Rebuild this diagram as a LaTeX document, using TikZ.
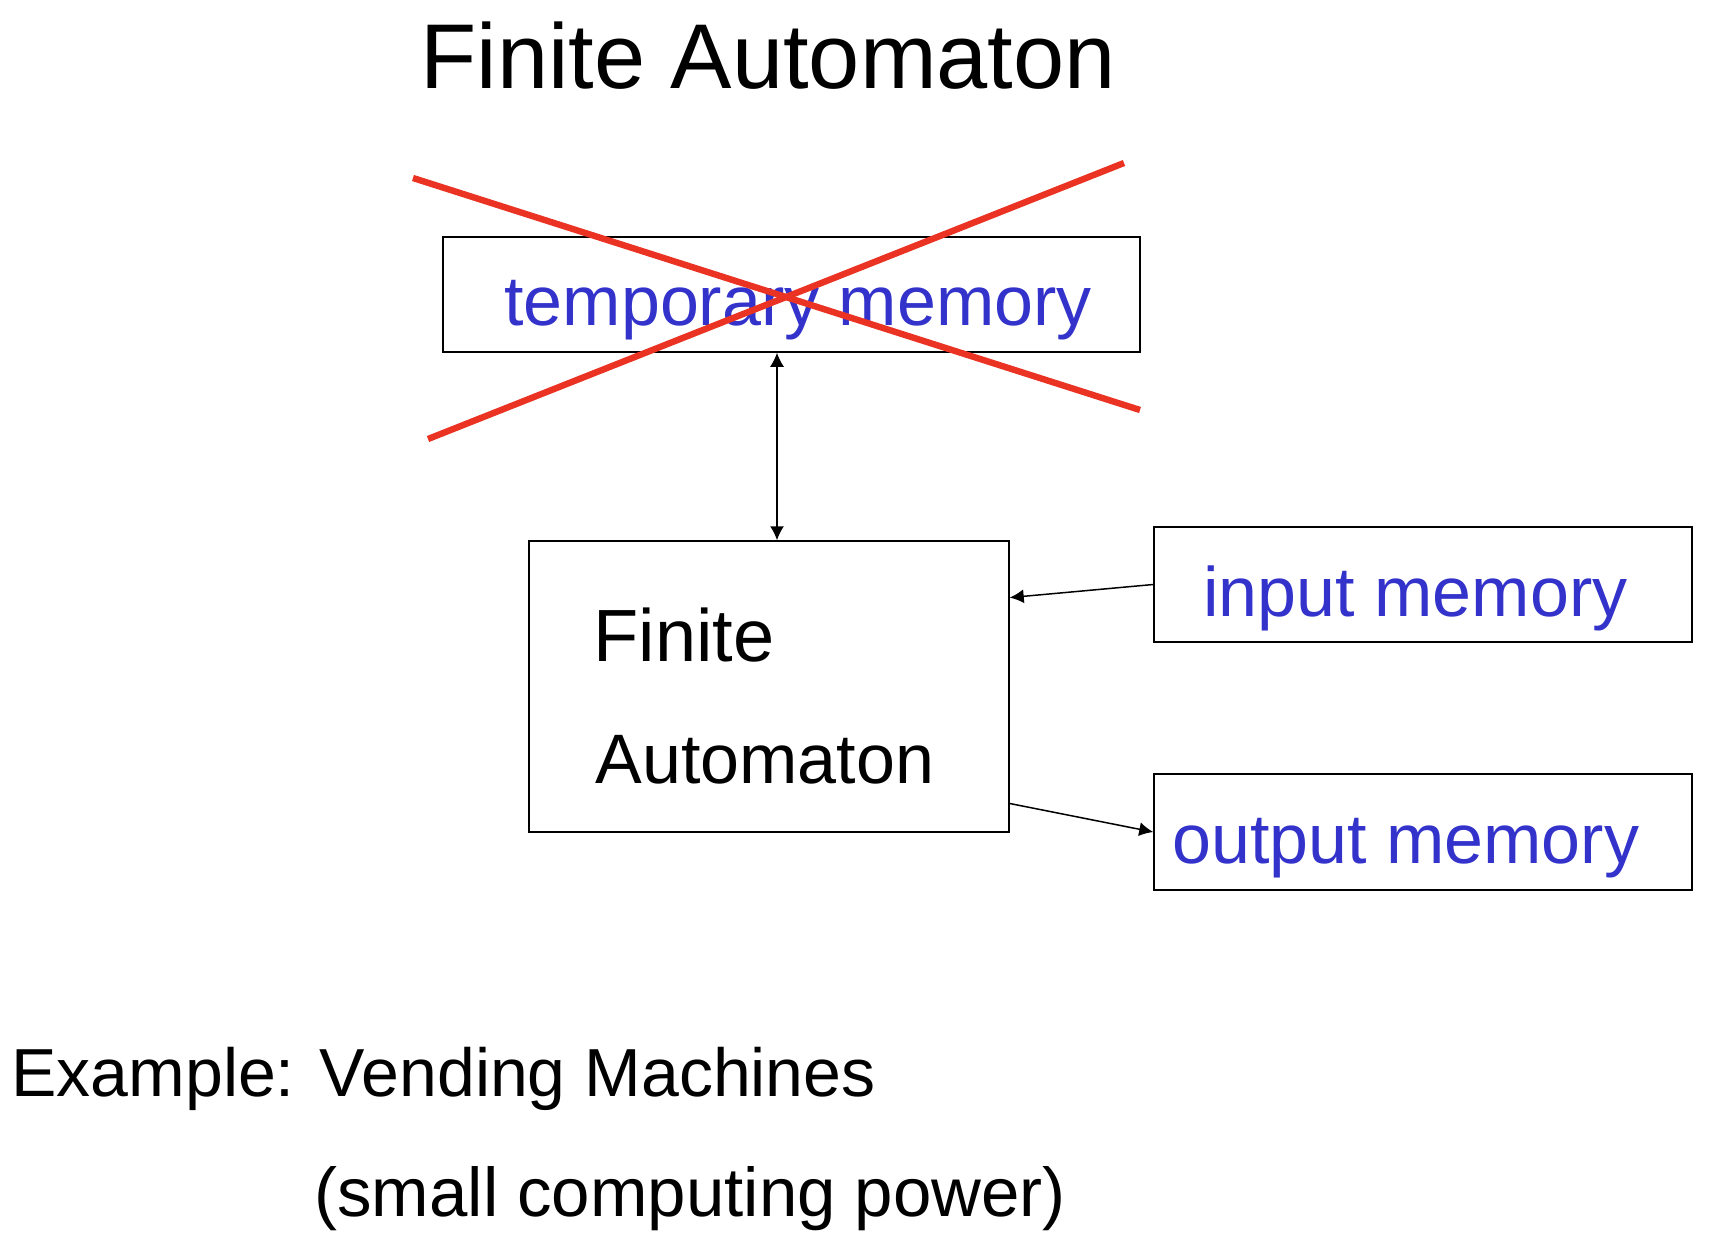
\documentclass[tikz,border=0pt]{standalone}
\usepackage{fontspec}
\setmainfont{Liberation Sans}
\usepackage{tikz}
\usetikzlibrary{arrows.meta,calc}

\definecolor{memblue}{RGB}{51,51,204}
\definecolor{crossred}{RGB}{234,51,35}

\begin{document}
\begin{tikzpicture}[x=0.5pt,y=0.5pt,yscale=-1,xscale=1,
  box/.style={draw,line width=0.75pt,inner sep=0pt},
  memtext/.style={anchor=base west,inner sep=0pt,text=memblue,font=\fontsize{35pt}{40pt}\selectfont},
  blacktext/.style={anchor=base west,inner sep=0pt,font=\fontsize{35pt}{40pt}\selectfont},
  link/.style={line width=0.75pt,-{Latex[length=7pt,width=7pt]}},
  duallink/.style={line width=0.75pt,{Latex[length=7pt,width=7pt]}-{Latex[length=7pt,width=7pt]}}]
\useasboundingbox (0,0) rectangle (1718,1258);
%Title
\node[anchor=base west,inner sep=0pt,font=\fontsize{46pt}{52pt}\selectfont] (title) at (420,88) {Finite Automaton};
%Shape: Rectangle
\node[box,minimum width=348.5pt,minimum height=57.5pt] (temp) at (791.5,294.5) {};
\node[memtext] (templbl) at (504,325) {temporary memory};
%Shape: Rectangle
\node[box,minimum width=240pt,minimum height=145.5pt] (fa) at (769,686.5) {};
\node[blacktext,font=\fontsize{37pt}{42pt}\selectfont] (falbl1) at (593,661) {Finite};
\node[blacktext] (falbl2) at (595,783) {Automaton};
%Shape: Rectangle
\node[box,minimum width=269pt,minimum height=57.5pt] (inp) at (1423,584.5) {};
\node[memtext] (inplbl) at (1203,616) {input memory};
%Shape: Rectangle
\node[box,minimum width=269pt,minimum height=58pt] (outp) at (1423,832) {};
\node[memtext] (outplbl) at (1172,863) {output memory};
%Straight Lines
\coordinate (ax) at (777,0);
\draw[duallink] (temp.south -| ax) -- (fa.north -| ax);
%Straight Lines
\draw[link] (inp.west) -- ($(fa.north east)!0.196!(fa.south east)$);
%Straight Lines
\draw[link] ($(fa.north east)!0.9!(fa.south east)$) -- (outp.west);
%Straight Lines (cross)
\draw[crossred,line width=3.2pt] (413,178) -- (1140,410);
\draw[crossred,line width=3.2pt] (428,439) -- (1124,163);
%Example
\node[blacktext,font=\fontsize{34pt}{40pt}\selectfont] (example) at (11,1096) {Example: Vending Machines};
\node[blacktext,font=\fontsize{34.5pt}{40pt}\selectfont] (power) at (314,1216) {(small computing power)};
\end{tikzpicture}
\end{document}
